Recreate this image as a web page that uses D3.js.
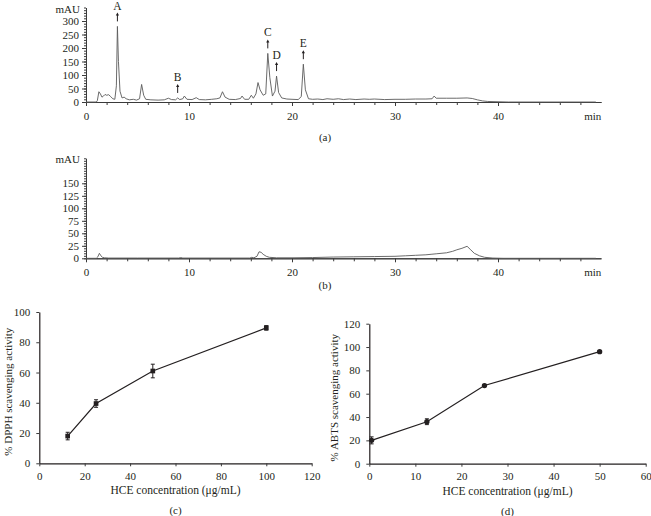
<!DOCTYPE html>
<html>
<head>
<meta charset="utf-8">
<script src="https://cdn.jsdelivr.net/npm/d3@7"></script>
<style>
  body { margin: 0; background: #fff; }
  text { font-family: "Liberation Serif", "DejaVu Serif", serif; fill: #231f20; }
</style>
</head>
<body>
<svg width="651" height="516"></svg>
<script>
// chromatogram (a): HCE extract, time (min) and absorbance (mAU)
const timeA = [0, 1.0, 1.1, 1.25, 1.4, 1.55, 1.7, 1.85, 2.0, 2.2, 2.4, 2.6, 2.8, 2.95, 3.05, 3.15, 3.3, 3.5, 3.7, 3.9, 4.2, 4.6, 4.9, 5.2, 5.4, 5.6, 5.8, 6.3, 7.0, 7.6, 8.0, 8.3, 8.7, 8.9, 9.1, 9.4, 9.55, 9.8, 10.3, 10.7, 11.0, 11.6, 12.2, 12.7, 13.0, 13.25, 13.5, 13.9, 14.5, 15.0, 15.15, 15.4, 15.8, 16.05, 16.25, 16.5, 16.7, 16.9, 17.2, 17.45, 17.65, 17.85, 18.1, 18.35, 18.5, 18.7, 19.0, 19.5, 20.0, 20.6, 20.9, 21.1, 21.3, 21.6, 22.0, 22.5, 23.0, 23.4, 24.0, 24.5, 25.0, 25.6, 26.2, 27.0, 27.5, 28.0, 29.0, 30.0, 31.0, 32.0, 33.0, 33.6, 33.8, 34.0, 35.0, 36.0, 37.0, 37.5, 38.0, 38.5, 39.0, 40.0, 41.0, 49.5];
const mauA = [0, 0, 5, 38, 30, 18, 22, 28, 25, 27, 20, 12, 10, 60, 280, 150, 40, 15, 18, 12, 8, 10, 7, 12, 65, 25, 10, 8, 7, 8, 14, 9, 8, 15, 9, 12, 22, 10, 9, 16, 9, 8, 10, 12, 15, 38, 18, 10, 9, 13, 22, 10, 10, 25, 14, 30, 72, 45, 25, 30, 180, 90, 22, 40, 96, 35, 15, 11, 10, 9, 20, 140, 45, 12, 10, 11, 9, 12, 10, 12, 9, 11, 9, 11, 10, 11, 9, 10, 10, 11, 11, 12, 22, 14, 14, 14, 15, 13, 8, 4, 2, 1, 0, 0];

// marked peaks in (a)
const peakNames = ["A", "B", "C", "D", "E"];
const peakTimes = [3.05, 8.9, 17.65, 18.5, 21.1];
const peakHeights = [280, 15, 180, 96, 140];

// chromatogram (b)
const timeB = [0, 1.0, 1.15, 1.3, 1.45, 1.6, 1.8, 2.2, 5, 9, 9.2, 9.4, 15.9, 16.1, 16.3, 16.6, 16.8, 17.0, 17.2, 17.5, 17.8, 18.5, 20, 22, 24, 26, 28, 30, 31, 32, 33, 33.5, 34, 35, 35.6, 36, 36.5, 37.0, 37.3, 37.7, 38.2, 38.7, 39.5, 40.5, 49.5];
const mauB = [0, 0, 3, 10, 5, 2, 1, 0.5, 0.5, 0.5, 1.5, 0.5, 0.5, 2, 1, 4, 13, 12, 8, 4, 2, 1, 1, 1.5, 2.5, 3, 3.5, 4, 5, 6, 7, 8, 9, 11, 14, 17, 20, 24, 18, 10, 5, 2, 0.5, 0, 0];

// (c) DPPH
const dpphConc = [12.5, 25, 50, 100];
const dpphAct = [18, 39.5, 61, 89.5];
const dpphErr = [2.5, 2.5, 4.5, 1.5];

// (d) ABTS
const abtsConc = [0.5, 12.5, 25, 50];
const abtsAct = [20, 36, 67, 96];
const abtsErr = [3, 2.5, 1, 1];

const chromTicks = [0, 10, 20, 30, 40];
const svg = d3.select("svg");
const axisColor = "#3a3a3a";

function styleAxis(g) {
  g.selectAll("path, line").attr("stroke", axisColor).attr("stroke-width", 1);
  g.selectAll("text").attr("font-size", 11).attr("fill", "#231f20")
    .style("font-family", "'Liberation Serif', serif");
}

function chromatogram(times, vals, yTop, yBottom, yMax, yLabels, yMinorStep, caption, captionY) {
  const x = d3.scaleLinear().domain([0, 50]).range([86, 601]);
  const y = d3.scaleLinear().domain([0, yMax]).range([yBottom, yTop]);
  const g = svg.append("g");

  // minor ticks
  g.append("g").attr("transform", `translate(86,0)`)
    .call(d3.axisLeft(y).tickValues(d3.range(0, yMax + 0.1, yMinorStep)).tickSize(2).tickSizeOuter(0).tickFormat(""))
    .call(styleAxis);
  g.append("g").attr("transform", `translate(86,0)`)
    .call(d3.axisLeft(y).tickValues(yLabels).tickSize(4).tickSizeOuter(0).tickPadding(3))
    .call(styleAxis);
  g.append("text").attr("x", 80).attr("y", y(yMax) + 5).attr("text-anchor", "end")
    .attr("font-size", 11).text("mAU");

  g.append("g").attr("transform", `translate(0,${yBottom})`)
    .call(d3.axisBottom(x).tickValues(d3.range(0, 49, 2)).tickSize(3).tickSizeOuter(0).tickFormat(""))
    .call(styleAxis);
  g.append("g").attr("transform", `translate(0,${yBottom})`)
    .call(d3.axisBottom(x).tickValues(chromTicks).tickSize(4).tickSizeOuter(0).tickPadding(6))
    .call(styleAxis);
  g.append("text").attr("x", x(49.2)).attr("y", yBottom + 18).attr("text-anchor", "middle")
    .attr("font-size", 11).text("min");

  const line = d3.line().x((d, i) => x(times[i])).y(d => y(d));
  g.append("path").datum(vals).attr("d", line)
    .attr("fill", "none").attr("stroke", "#5a5a5a").attr("stroke-width", 0.9);

  svg.append("text").attr("x", 325).attr("y", captionY).attr("text-anchor", "middle")
    .attr("font-size", 11).text(caption);
  return { x, y, g };
}

const a = chromatogram(timeA, mauA, 7.5, 102, 350, d3.range(0, 301, 50), 10, "(a)", 141);
chromatogram(timeB, mauB, 158.3, 258.3, 200, d3.range(0, 151, 25), 5, "(b)", 289);

// peak arrows and letters
peakNames.forEach((name, i) => {
  const px = a.x(peakTimes[i]);
  const bottom = a.y(peakHeights[i]) - 5;
  const top = bottom - 9;
  a.g.append("line").attr("x1", px).attr("x2", px).attr("y1", bottom).attr("y2", top + 2)
    .attr("stroke", "#231f20").attr("stroke-width", 1);
  a.g.append("path").attr("d", `M${px - 1.6},${top + 3}L${px},${top}L${px + 1.6},${top + 3}Z`)
    .attr("fill", "#231f20");
  a.g.append("text").attr("x", px).attr("y", Math.max(top - 3, 9.5)).attr("text-anchor", "middle")
    .attr("font-size", 11.5).text(name);
});

function activityPlot(opts) {
  const { conc, act, err, xDomain, xTicks, yDomain, yTicks, xRange, yRange, yTitle, titleX, caption, marker } = opts;
  const x = d3.scaleLinear().domain(xDomain).range(xRange);
  const y = d3.scaleLinear().domain(yDomain).range(yRange);
  const g = svg.append("g");

  g.append("g").attr("transform", `translate(${xRange[0]},0)`)
    .call(d3.axisLeft(y).tickValues(yTicks).tickSize(3).tickSizeOuter(0).tickPadding(6))
    .call(styleAxis);
  g.append("g").attr("transform", `translate(0,${yRange[0]})`)
    .call(d3.axisBottom(x).tickValues(xTicks).tickSize(3).tickSizeOuter(0).tickPadding(6))
    .call(styleAxis);
  g.selectAll(".domain").attr("stroke", "#231f20").attr("stroke-width", 1.2);

  const cx = (xRange[0] + xRange[1]) / 2;
  g.append("text").attr("x", cx).attr("y", yRange[0] + 31).attr("text-anchor", "middle")
    .attr("font-size", 11.5).text("HCE concentration (\u03bcg/mL)");
  g.append("text").attr("x", cx).attr("y", yRange[0] + 51).attr("text-anchor", "middle")
    .attr("font-size", 11).text(caption);
  g.append("text").attr("transform", `translate(${titleX},${(yRange[0] + yRange[1]) / 2 + 4}) rotate(-90)`)
    .attr("text-anchor", "middle").attr("font-size", 11).text(yTitle);

  const pts = conc.map((c, i) => ({ c, v: act[i], e: err[i] }));
  g.append("path").datum(pts)
    .attr("d", d3.line().x(d => x(d.c)).y(d => y(d.v)))
    .attr("fill", "none").attr("stroke", "#231f20").attr("stroke-width", 1.2);

  const eb = g.selectAll(".eb").data(pts).enter().append("g");
  eb.append("line").attr("x1", d => x(d.c)).attr("x2", d => x(d.c))
    .attr("y1", d => y(d.v - d.e)).attr("y2", d => y(d.v + d.e))
    .attr("stroke", "#231f20").attr("stroke-width", 1);
  [-1, 1].forEach(s => {
    eb.append("line").attr("x1", d => x(d.c) - 2).attr("x2", d => x(d.c) + 2)
      .attr("y1", d => y(d.v + s * d.e)).attr("y2", d => y(d.v + s * d.e))
      .attr("stroke", "#231f20").attr("stroke-width", 1);
  });
  g.selectAll(".pt").data(pts).enter().append("path")
    .attr("transform", d => `translate(${x(d.c)},${y(d.v)})`)
    .attr("d", d3.symbol().type(marker).size(22))
    .attr("fill", "#231f20");
}

activityPlot({
  conc: dpphConc, act: dpphAct, err: dpphErr,
  xDomain: [0, 120], xTicks: d3.range(0, 121, 20),
  yDomain: [0, 100], yTicks: d3.range(0, 101, 20),
  xRange: [39.3, 311.7], yRange: [463.3, 312],
  yTitle: "% DPPH scavenging activity", titleX: 11.5, caption: "(c)", marker: d3.symbolSquare
});

activityPlot({
  conc: abtsConc, act: abtsAct, err: abtsErr,
  xDomain: [0, 60], xTicks: d3.range(0, 61, 10),
  yDomain: [0, 120], yTicks: d3.range(0, 121, 20),
  xRange: [369.3, 645.7], yRange: [463.7, 323.7],
  yTitle: "% ABTS scavenging activity", titleX: 338, caption: "(d)", marker: d3.symbolCircle
});
</script>
</body>
</html>
